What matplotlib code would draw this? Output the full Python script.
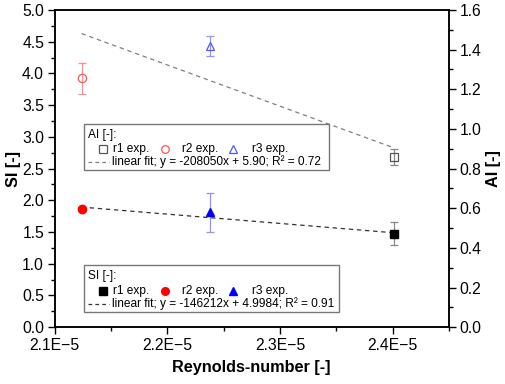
import matplotlib
matplotlib.use("Agg")
import matplotlib.pyplot as plt
from matplotlib.ticker import MultipleLocator, FuncFormatter
from matplotlib.patches import Rectangle
import numpy as np

plt.rcParams['font.family'] = ['Liberation Sans', 'DejaVu Sans']

# data
runs = ['r1 exp.', 'r2 exp.', 'r3 exp.']
reynolds = [2.401e-5, 2.124e-5, 2.238e-5]
si_vals = [1.47, 1.86, 1.81]
si_err = [0.18, 0.03, 0.31]
ai_vals = [0.858, 1.256, 1.417]
ai_err = [0.04, 0.078, 0.05]
si_fit = (-146212, 4.9984)
ai_fit = (-208050, 5.90)
si_fit_label = 'linear fit; y = -146212x + 4.9984; R² = 0.91'
ai_fit_label = 'linear fit; y = -208050x + 5.90; R² = 0.72'

markers = ['s', 'o', '^']
colors = ['black', 'red', 'blue']
ai_colors = ['#555555', '#ff5555', '#5555ff']
err_colors = ['#888888', '#ff9090', '#9090ff']

fig = plt.figure(figsize=(5.05, 3.84), dpi=100)
ax = fig.add_axes([0.108, 0.148, 0.781, 0.826])
ax2 = ax.twinx()

# fit lines
xf = np.array([min(reynolds), max(reynolds)])
ax.plot(xf, si_fit[0] * xf + si_fit[1], ls=(0, (3.5, 3)), color='#333333', lw=0.9, zorder=2)
ax2.plot(xf, ai_fit[0] * xf + ai_fit[1], ls=(0, (3.5, 3)), color='#808080', lw=0.9, zorder=2)

for i in range(3):
    ax.errorbar(reynolds[i], si_vals[i], yerr=si_err[i], fmt=markers[i], color=colors[i],
                ecolor=err_colors[i], elinewidth=0.9, capsize=3, capthick=0.9, ms=6, zorder=3)
    ax2.errorbar(reynolds[i], ai_vals[i], yerr=ai_err[i], fmt=markers[i], mfc='none',
                 mec=ai_colors[i], ecolor=err_colors[i], elinewidth=0.9, capsize=3,
                 capthick=0.9, ms=6, mew=0.9, zorder=3)

ax.set_xlim(2.1e-5, 2.45e-5)
ax.set_ylim(0, 5)
ax2.set_ylim(0, 1.6)
ax.xaxis.set_major_locator(MultipleLocator(1e-6))
ax.xaxis.set_minor_locator(MultipleLocator(5e-7))
ax.xaxis.set_major_formatter(FuncFormatter(lambda v, p: f"{v*1e5:.1f}E\u22125"))
ax.yaxis.set_major_locator(MultipleLocator(0.5))
ax.yaxis.set_minor_locator(MultipleLocator(0.25))
ax.yaxis.set_major_formatter(FuncFormatter(lambda v, p: f"{v:.1f}"))
ax2.yaxis.set_major_locator(MultipleLocator(0.2))
ax2.yaxis.set_minor_locator(MultipleLocator(0.1))
ax2.yaxis.set_major_formatter(FuncFormatter(lambda v, p: f"{v:.1f}"))

for a in (ax, ax2):
    a.tick_params(which='major', direction='out', length=5, width=1, labelsize=11.3, pad=2.5)
    a.tick_params(which='minor', direction='out', length=3, width=1)
    for s in a.spines.values():
        s.set_linewidth(1.1)

ax.set_xlabel('Reynolds-number [-]', fontsize=11.7, fontweight='bold', labelpad=5)
ax.set_ylabel('SI [-]', fontsize=11.7, fontweight='bold', labelpad=1)
ax2.set_ylabel('AI [-]', fontsize=11.7, fontweight='bold', labelpad=3)


def draw_legend(a, top, bottom, right, title, hollow, mcols, fit_col, fit_label):
    left = 0.075
    a.add_patch(Rectangle((left, bottom), right - left, top - bottom, transform=a.transAxes,
                          facecolor='white', edgecolor='#777777', lw=1.0, zorder=10))
    h = top - bottom
    ty = top - 0.23 * h
    r1 = top - 0.55 * h
    r2 = top - 0.82 * h
    a.text(0.085, ty, title, transform=a.transAxes, fontsize=8.6, va='center', zorder=11)
    mx = [0.123, 0.280, 0.452]
    tx = [0.148, 0.324, 0.500]
    for i in range(3):
        if hollow:
            a.plot([mx[i]], [r1], markers[i], mfc='none', mec=mcols[i], ms=5.5, mew=0.9,
                   transform=a.transAxes, zorder=11, clip_on=False)
        else:
            a.plot([mx[i]], [r1], markers[i], color=mcols[i], ms=5.5,
                   transform=a.transAxes, zorder=11, clip_on=False)
        a.text(tx[i], r1, runs[i], transform=a.transAxes, fontsize=8.6, va='center', zorder=11)
    a.plot([0.085, 0.137], [r2, r2], ls=(0, (3, 2.5)), color=fit_col, lw=0.9,
           transform=a.transAxes, zorder=11)
    a.text(0.146, r2, fit_label, transform=a.transAxes, fontsize=8.6, va='center', zorder=11)


draw_legend(ax2, 0.640, 0.495, 0.695, 'AI [-]:', True, ai_colors, '#808080', ai_fit_label)
draw_legend(ax2, 0.196, 0.047, 0.722, 'SI [-]:', False, colors, '#333333', si_fit_label)

fig.savefig('out.png', dpi=100)
